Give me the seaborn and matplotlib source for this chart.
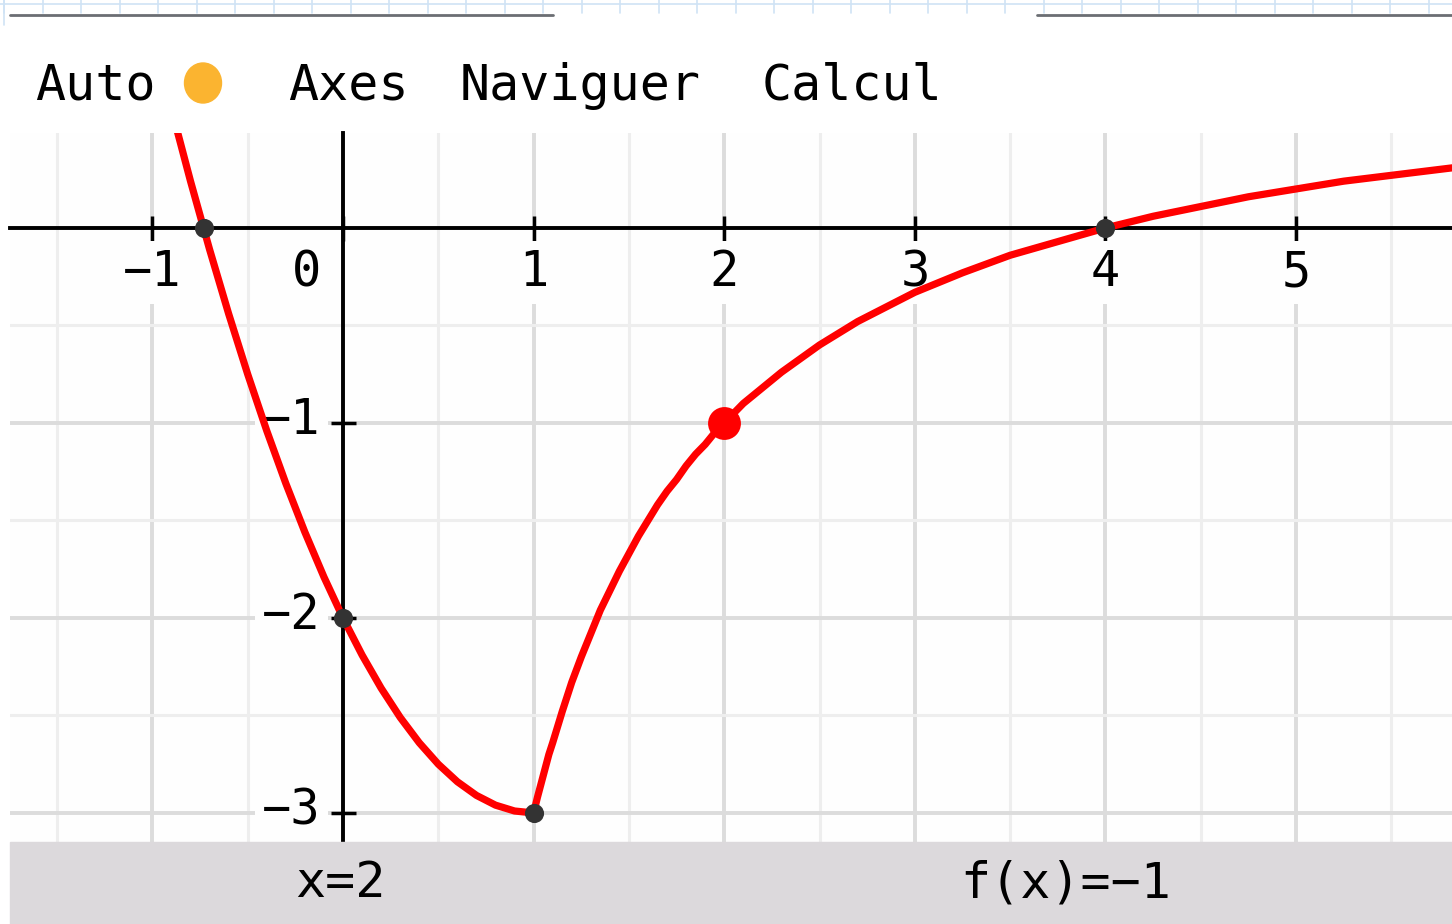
import numpy as np
import pandas as pd
import seaborn as sns
import matplotlib.pyplot as plt
from matplotlib.lines import Line2D
from matplotlib.patches import Ellipse, Rectangle

# Curve values (parabola branch, then the 1/x branch after x = 1)
curve_x = [-0.92, -0.9, -0.8, -0.7, -0.6, -0.5, -0.4, -0.3, -0.2, -0.1, 0.0,
           0.1, 0.2, 0.3, 0.4, 0.5, 0.6, 0.7, 0.8, 0.9, 1.0,
           1.02, 1.05, 1.08, 1.1, 1.15, 1.2, 1.25, 1.3, 1.35, 1.4, 1.45, 1.5,
           1.55, 1.6, 1.65, 1.7, 1.75, 1.8, 1.85, 1.9, 1.95, 2.0,
           2.1, 2.2, 2.3, 2.4, 2.5, 2.6, 2.7, 2.8, 2.9, 3.0, 3.1, 3.25, 3.5, 3.75,
           4.0, 4.25, 4.5, 4.75, 5.0, 5.25, 5.5, 5.75, 6.0]
curve_y = [0.69, 0.61, 0.24, -0.11, -0.44, -0.75, -1.04, -1.31, -1.56, -1.79, -2.0,
           -2.19, -2.36, -2.51, -2.64, -2.75, -2.84, -2.91, -2.96, -2.99, -3.0,
           -2.92, -2.81, -2.70, -2.64, -2.48, -2.33, -2.2, -2.08, -1.96, -1.86, -1.76, -1.67,
           -1.58, -1.5, -1.42, -1.35, -1.29, -1.22, -1.16, -1.11, -1.05, -1.0,
           -0.9, -0.82, -0.74, -0.67, -0.6, -0.54, -0.48, -0.43, -0.38, -0.33, -0.29, -0.23, -0.14, -0.07,
           0.0, 0.06, 0.11, 0.16, 0.2, 0.24, 0.27, 0.3, 0.33]

# Marked points (roots, intercept, corner) and the cursor
point_x = [-0.73, 0.0, 1.0, 4.0]
point_y = [0.0, -2.0, -3.0, 0.0]
cursor_x = [2.0]
cursor_y = [-1.0]

# Axis labels
x_ticks = [-1, 0, 1, 2, 3, 4, 5]
x_tick_labels = ['−1', '0', '1', '2', '3', '4', '5']
y_ticks = [-1, -2, -3]
y_tick_labels = ['−1', '−2', '−3']

# Screen texts
menu_items = ['Auto', 'Axes', 'Naviguer', 'Calcul']
status_texts = ['x=2', 'f(x)=−1']

sns.set_style('white')
plt.rcParams['font.family'] = ['DejaVu Sans Mono', 'DejaVu Sans']
plt.rcParams['text.color'] = 'black'

W, H = 1452, 924
fig = plt.figure(figsize=(W / 100, H / 100), dpi=100)
fig.patch.set_facecolor('white')

# Plot area
ax = fig.add_axes([10 / W, 82 / H, 1442 / W, 709 / H])
ax.set_facecolor('#fefefe')

curve = pd.DataFrame({'x': curve_x, 'y': curve_y})
sns.lineplot(data=curve, x='x', y='y', sort=False, color='#ff0000', lw=5.2, ax=ax,
             zorder=4, solid_joinstyle='round', solid_capstyle='round')
sns.scatterplot(x=point_x, y=point_y, color='#333333', s=190, linewidth=0, ax=ax, zorder=5)
sns.scatterplot(x=cursor_x, y=cursor_y, color='#ff0000', s=560, linewidth=0, ax=ax, zorder=6)

ax.set_xlim(-1.747, 5.818)
ax.set_ylim(-3.149, 0.487)
ax.set_xlabel('')
ax.set_ylabel('')

ax.set_xticks(x_ticks)
ax.set_yticks(y_ticks)
ax.set_xticks(np.arange(-1.5, 6.0, 1.0), minor=True)
ax.set_yticks(np.arange(-2.5, 0.0, 1.0), minor=True)
ax.set_axisbelow(True)
ax.grid(which='major', color='#dcdcdc', lw=2.8)
ax.grid(which='minor', color='#eeeeee', lw=2.2)

# Axes through the origin
for side in ['top', 'right']:
    ax.spines[side].set_visible(False)
ax.spines['left'].set_position(('data', 0))
ax.spines['bottom'].set_position(('data', 0))
for side in ['left', 'bottom']:
    ax.spines[side].set_linewidth(2.8)
    ax.spines[side].set_color('black')
ax.tick_params(which='major', bottom=True, left=True, direction='inout', length=18,
               width=2.5, color='black', labelbottom=False, labelleft=False)
ax.tick_params(which='minor', length=0)

label_box = dict(boxstyle='square,pad=0.15', fc='#fefefe', ec='none')
for xv, lab in zip(x_ticks, x_tick_labels):
    dx = -26 if xv == 0 else 0      # the "0" sits left of the y axis
    ax.annotate(lab, (xv, 0), xytext=(dx, -32), textcoords='offset points',
                ha='center', va='center', fontsize=35, bbox=label_box, zorder=3)
for yv, lab in zip(y_ticks, y_tick_labels):
    ax.annotate(lab, (0, yv), xytext=(-16, 2), textcoords='offset points',
                ha='right', va='center', fontsize=35, bbox=label_box, zorder=3)

# Status bar at the bottom
fig.patches.append(Rectangle((10 / W, 0), 1442 / W, 82 / H, transform=fig.transFigure,
                             color='#dcd9dc', zorder=0))
fig.text(295 / W, 1 - 897 / H, status_texts[0], fontsize=36, va='baseline')
fig.text(960 / W, 1 - 897 / H, status_texts[1], fontsize=36, va='baseline')

# Menu bar at the top
menu_left = [35, 288, 460, 762]
for left, item in zip(menu_left, menu_items):
    fig.text(left / W, 1 - 100 / H, item, fontsize=36, va='baseline')
fig.patches.append(Ellipse((203 / W, 1 - 83 / H), 37 / W, 40 / H, transform=fig.transFigure,
                           color='#fbb430'))

# Strip of the page behind the screen
fig.add_artist(Line2D([0, 1], [1 - 4 / H] * 2, color='#cfe3f5', lw=1.2, transform=fig.transFigure))
for xv in np.arange(4, W, 38.5):
    fig.add_artist(Line2D([xv / W] * 2, [1, 1 - 13 / H], color='#cfe3f5', lw=1.2,
                          transform=fig.transFigure))
fig.add_artist(Line2D([4 / W] * 2, [1, 1 - 25 / H], color='#cfe3f5', lw=1.2, transform=fig.transFigure))
fig.add_artist(Line2D([10 / W, 553 / W], [1 - 15 / H] * 2, color='#6b6e73', lw=2,
                      transform=fig.transFigure))
fig.add_artist(Line2D([1037 / W, 1], [1 - 15 / H] * 2, color='#6b6e73', lw=2,
                      transform=fig.transFigure))

fig.savefig('out.png', dpi=100)
